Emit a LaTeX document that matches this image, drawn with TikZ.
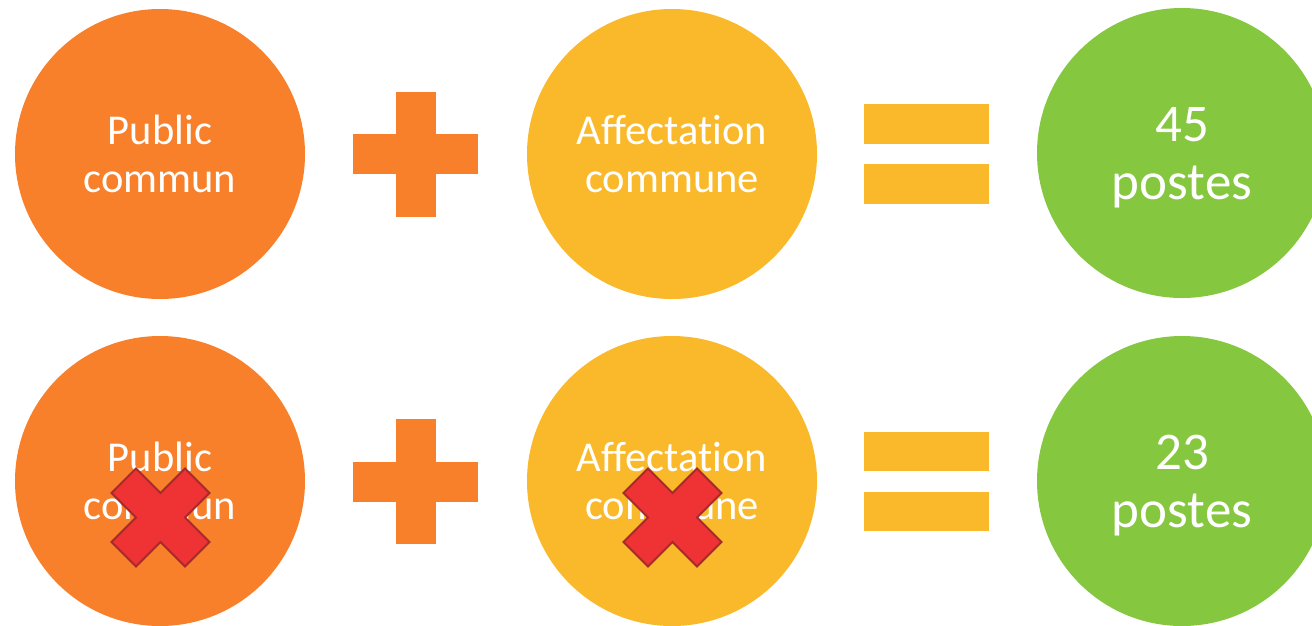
\documentclass[tikz,border=0pt]{standalone}
\usepackage{fontspec}
\setmainfont{Carlito}[Ligatures={NoCommon,NoRare,NoDiscretionary}]
\definecolor{corange}{HTML}{F8802B}
\definecolor{cyellow}{HTML}{F9B92B}
\definecolor{cgreen}{HTML}{86C740}
\definecolor{cred}{HTML}{EF3335}
\definecolor{cdred}{HTML}{A52A2A}
\tikzset{
  bigcirc/.style={circle, minimum size=290pt, inner sep=0pt, text=white, align=center},
  smalltext/.style={font=\fontsize{42.5}{48.5}\selectfont},
  bigtext/.style={font=\fontsize{53}{58}\selectfont},
  crossmark/.style={fill=cred, draw=cdred, line width=1.8pt, line join=miter},
  pics/plusop/.style={code={
    \fill[corange] (-20,-62.5) rectangle (20,62.5);
    \fill[corange] (-62.5,-20) rectangle (62.5,20);
  }},
  pics/equalsop/.style={code={
    \fill[cyellow] (-62.5,-50) rectangle (62.5,-10.5);
    \fill[cyellow] (-62.5,10) rectangle (62.5,49.5);
  }},
  pics/xmark/.style={code={
    \draw[crossmark] (0,-24.5) -- (24.5,-49) -- (49,-24.5) -- (24.5,0) -- (49,24.5) -- (24.5,49) -- (0,24.5) -- (-24.5,49) -- (-49,24.5) -- (-24.5,0) -- (-49,-24.5) -- (-24.5,-49) -- cycle;
  }}
}
\begin{document}
\begin{tikzpicture}[x=1pt,y=-1pt]
\useasboundingbox (0,0) rectangle (1312,625);
\clip (0,0) rectangle (1312,625);
% row 1
\node[bigcirc, fill=corange, smalltext] (a1) at (160,154) {Public\\commun};
\pic at (415.5,154) {plusop};
\node[bigcirc, fill=cyellow, smalltext] (b1) at (672,154) {Affectation\\commune};
\pic at (926.5,154) {equalsop};
\node[bigcirc, fill=cgreen, bigtext] (c1) at (1182,153) {};
\node[text=white, align=center, bigtext] (t1) at (1182,158) {45\\postes};
% row 2
\node[bigcirc, fill=corange, smalltext] (a2) at (160,481) {Public\\commun};
\pic at (415.5,481.5) {plusop};
\node[bigcirc, fill=cyellow, smalltext] (b2) at (672,481) {Affectation\\commune};
\pic at (926.5,481.5) {equalsop};
\node[bigcirc, fill=cgreen, bigtext] (c2) at (1182,481) {};
\node[text=white, align=center, bigtext] (t2) at (1182,486) {23\\postes};
\pic at (160.5,517.5) {xmark};
\pic at (672.5,517.5) {xmark};
\end{tikzpicture}
\end{document}
